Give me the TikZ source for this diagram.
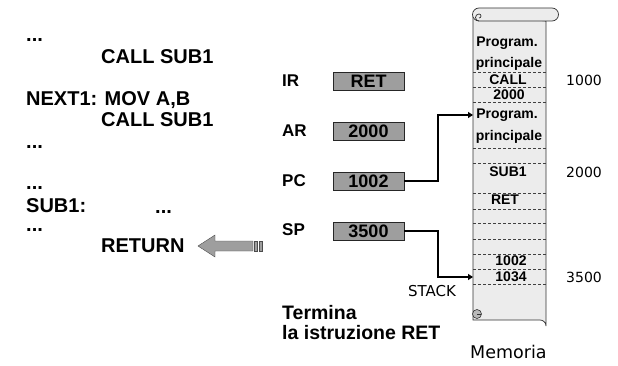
\documentclass[tikz,border=0pt]{standalone}
\usepackage{fontspec}
\setmainfont{Liberation Sans}
\newfontfamily\thinfont{DejaVu Sans}
\usetikzlibrary{arrows.meta}
\definecolor{regfill}{RGB}{158,158,158}
\definecolor{memfill}{RGB}{236,236,236}
\definecolor{curlfill}{RGB}{185,185,185}

\begin{document}
\begin{tikzpicture}[x=1pt, y=-1pt,
code/.style={anchor=west, inner sep=0pt, font=\bfseries\fontsize{20}{22}\selectfont},
dots/.style={anchor=base west, inner sep=0pt, font=\bfseries\fontsize{20}{22}\selectfont},
reglabel/.style={anchor=west, inner sep=0pt, font=\bfseries\fontsize{17}{19}\selectfont},
regbox/.style={draw=black!85, fill=regfill, minimum width=71pt, minimum height=18pt, inner sep=0pt, font=\bfseries\fontsize{18}{20}\selectfont},
cell/.style={inner sep=0pt, font=\bfseries\fontsize{14}{16}\selectfont},
addr/.style={anchor=west, inner sep=0pt, font=\thinfont\fontsize{14}{16}\selectfont},
sep/.style={densely dashed, black!75, line width=0.6pt},
arr/.style={-{Triangle[length=5pt,width=6pt]}, line width=1.6pt}
]
\useasboundingbox (0,0) rectangle (618,366);

% program listing
\node[dots] (d1) at (26,41.5) {...};
\node[code] (c1) at (101,57) {CALL SUB1};
\node[code] (nx) at (26,100) {NEXT1: MOV A,B};
\node[code] (c2) at (101,120) {CALL SUB1};
\node[dots] (d2) at (26,148.5) {...};
\node[dots] (d3) at (26,189.5) {...};
\node[code] (sb) at (26,206) {SUB1:};
\node[dots] (d4) at (155,213.5) {...};
\node[dots] (d5) at (26,231.5) {...};
\node[code] (rt) at (101,246) {RETURN};

% big arrow pointing at RETURN
\draw[fill=regfill, draw=black!70] (198,246) -- (215,235) -- (215,241) -- (253,241)
  -- (253,251) -- (215,251) -- (215,257) -- cycle;
\draw[fill=regfill, draw=black!70] (254.5,241) rectangle (257.5,251);
\draw[fill=regfill, draw=black!70] (259.5,241) rectangle (262.5,251);

% registers
\node[reglabel] (irl) at (282,81) {IR};
\node[reglabel] (arl) at (282,131) {AR};
\node[reglabel] (pcl) at (282,181) {PC};
\node[reglabel] (spl) at (282,230) {SP};
\node[regbox] (ir) at (368.5,81) {RET};
\node[regbox] (ar) at (368.5,131) {2000};
\node[regbox] (pc) at (368.5,181) {1002};
\node[regbox] (sp) at (368.5,231) {3500};

% memory scroll
\draw[fill=memfill, draw=black!80, line width=0.7pt] (473,14) -- (473,320) -- (540,320)
  arc[start angle=90, end angle=0, radius=6pt] -- (546,21) -- cycle;
\draw[fill=memfill, draw=black!80, line width=0.7pt] (479,8) -- (552,8)
  arc[start angle=90, end angle=-90, radius=6.5pt] -- (479,21)
  arc[start angle=270, end angle=90, radius=6.5pt];
\draw[draw=black!80, line width=0.7pt] (479,21) arc[start angle=270, end angle=90, radius=3.5pt]
  arc[start angle=90, end angle=-90, radius=2pt];
\draw[fill=curlfill, draw=black!80, line width=0.6pt] (477,314) circle[radius=4.5pt];
\draw[draw=black!80, line width=0.5pt] (477,314) -- (481,314);

\foreach \yy in {72,87,102,148,163,193,209,223,239,254,269,284}
  \draw[sep] (473,\yy) -- (546,\yy);

\node[cell] (m1) at (507,43) {Program.};
\node[cell] (m2) at (509,64) {principale};
\node[cell] (m3) at (508,80) {CALL};
\node[cell] (m4) at (509,95) {2000};
\node[cell] (m5) at (507,115) {Program.};
\node[cell] (m6) at (509,137) {principale};
\node[cell] (m7) at (508,172) {SUB1};
\node[cell] (m8) at (505,200) {RET};
\node[cell] (m9) at (511,261) {1002};
\node[cell] (m10) at (511,277) {1034};

\node[addr] (a1) at (566,80) {1000};
\node[addr] (a2) at (566,172) {2000};
\node[addr] (a3) at (566,277) {3500};

\coordinate (pcend) at (473,115);
\coordinate (spend) at (473,277);

% pointers
\draw[arr] (pc.east) -| (438,115) -- (pcend);
\draw[arr] (sp.east) -| (438,277) -- (spend);

\node[addr, font=\thinfont\fontsize{15}{17}\selectfont] (stk) at (408,291) {STACK};
\node[reglabel, font=\bfseries\fontsize{19.5}{21}\selectfont] (t1) at (282,313) {Termina};
\node[reglabel, font=\bfseries\fontsize{19.5}{21}\selectfont] (t2) at (282,333) {la istruzione RET};
\node[addr, font=\thinfont\fontsize{17.5}{19}\selectfont] (mem) at (470,352) {Memoria};
\end{tikzpicture}
\end{document}
